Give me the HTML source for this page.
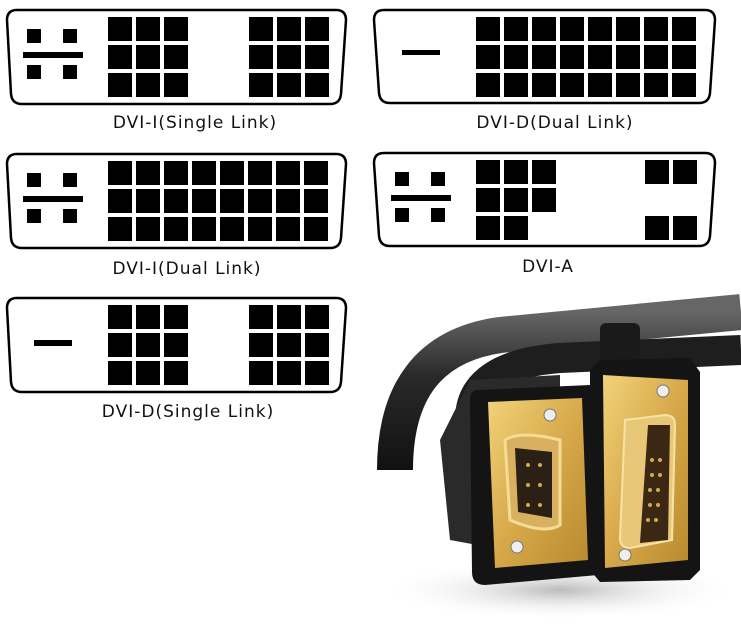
<!DOCTYPE html>
<html><head><meta charset="utf-8"><style>
html,body{margin:0;padding:0;background:#fff;}
svg{display:block;}
text{font-family:"DejaVu Sans","Liberation Sans",sans-serif;font-size:17px;fill:#111;letter-spacing:1px;}
</style></head><body>
<svg width="741" height="633" viewBox="0 0 741 633" xmlns="http://www.w3.org/2000/svg">
<defs>
<rect id="s" width="24" height="24" fill="#000"/>
<g id="c"><use href="#s"/><use href="#s" y="28"/><use href="#s" y="56"/></g>
<g id="g3"><use href="#c"/><use href="#c" x="28"/><use href="#c" x="56"/></g>
<g id="an"><rect x="0" y="0" width="14" height="14"/><rect x="36" y="0" width="14" height="14"/><rect x="-4" y="23" width="60" height="6"/><rect x="0" y="36" width="14" height="14"/><rect x="36" y="36" width="14" height="14"/></g>
<linearGradient id="cab" x1="0" y1="0" x2="0" y2="1"><stop offset="0" stop-color="#666"/><stop offset="0.4" stop-color="#2a2a2a"/><stop offset="1" stop-color="#111"/></linearGradient>
<linearGradient id="gold" x1="0" y1="0" x2="1" y2="1"><stop offset="0" stop-color="#f2d27a"/><stop offset="0.5" stop-color="#d7a94a"/><stop offset="1" stop-color="#b98a2e"/></linearGradient>
<radialGradient id="sh" cx="0.5" cy="0.5" r="0.5"><stop offset="0" stop-color="#bbb"/><stop offset="1" stop-color="#fff" stop-opacity="0"/></radialGradient>
</defs>
<g fill="none" stroke="#000" stroke-width="2.5">
<path d="M17,10 H336 Q346,10 346,20 L341,94 Q340,104 330,104 H22 Q12,104 11,94 L7,20 Q7,10 17,10 Z"/>
<path d="M384,10 H705 Q715,10 715,20 L710,93 Q709,103 699,103 H390 Q380,103 379,93 L374,20 Q374,10 384,10 Z"/>
<path d="M17,154 H336 Q346,154 346,164 L341,238 Q340,248 330,248 H22 Q12,248 11,238 L7,164 Q7,154 17,154 Z"/>
<path d="M384,153 H705 Q715,153 715,163 L710,236 Q709,246 699,246 H390 Q380,246 379,236 L374,163 Q374,153 384,153 Z"/>
<path d="M17,298 H336 Q346,298 346,308 L341,382 Q340,392 330,392 H22 Q12,392 11,382 L7,308 Q7,298 17,298 Z"/>
</g>
<use href="#an" x="27" y="29"/>
<use href="#g3" x="108" y="17"/><use href="#g3" x="249" y="17"/>
<text x="195" y="128" text-anchor="middle">DVI-I(Single Link)</text>
<rect x="402" y="50" width="38" height="5"/>
<use href="#g3" x="476" y="17"/><use href="#g3" x="560" y="17"/><use href="#c" x="644" y="17"/><use href="#c" x="672" y="17"/>
<text x="555" y="128" text-anchor="middle">DVI-D(Dual Link)</text>
<use href="#an" x="27" y="173"/>
<use href="#g3" x="108" y="161"/><use href="#g3" x="192" y="161"/><use href="#c" x="276" y="161"/><use href="#c" x="304" y="161"/>
<text x="187" y="274" text-anchor="middle">DVI-I(Dual Link)</text>
<use href="#an" x="395" y="172"/>
<use href="#s" x="476" y="160"/><use href="#s" x="504" y="160"/><use href="#s" x="532" y="160"/>
<use href="#s" x="476" y="188"/><use href="#s" x="504" y="188"/><use href="#s" x="532" y="188"/>
<use href="#s" x="476" y="216"/><use href="#s" x="504" y="216"/>
<use href="#s" x="645" y="160"/><use href="#s" x="673" y="160"/>
<use href="#s" x="645" y="216"/><use href="#s" x="673" y="216"/>
<text x="548" y="272" text-anchor="middle">DVI-A</text>
<rect x="34" y="340" width="38" height="6"/>
<use href="#g3" x="108" y="305"/><use href="#g3" x="249" y="305"/>
<text x="188" y="417" text-anchor="middle">DVI-D(Single Link)</text>
<ellipse cx="560" cy="590" rx="180" ry="30" fill="url(#sh)"/>
<path d="M395,470 Q395,350 500,335 L741,312" fill="none" stroke="url(#cab)" stroke-width="36"/>
<path d="M470,420 Q470,365 560,358 L741,350" fill="none" stroke="#1e1e1e" stroke-width="30"/>
<rect x="600" y="323" width="40" height="40" rx="6" fill="#1a1a1a"/>
<path d="M440,440 L470,380 L560,375 L560,560 L450,540 Z" fill="#2a2a2a"/>
<path d="M478,390 L590,385 L598,575 L485,585 Q472,585 472,572 L470,400 Q470,390 478,390 Z" fill="#141414"/>
<path d="M488,402 L582,398 L588,560 L495,568 Z" fill="url(#gold)"/>
<path d="M505,440 Q520,430 560,440 L560,525 Q545,535 510,520 Z" fill="#d9b060" stroke="#f3dc95" stroke-width="3"/>
<path d="M515,448 L552,452 L552,518 L518,512 Z" fill="#2b2015"/>
<circle cx="550" cy="415" r="6" fill="#eee" stroke="#777"/><circle cx="517" cy="547" r="6" fill="#eee" stroke="#777"/>
<path d="M590,370 L600,360 L690,358 L700,372 L700,570 L690,580 L600,582 L590,570 Z" fill="#141414"/>
<path d="M603,375 L688,380 L688,560 L605,568 Z" fill="url(#gold)"/>
<path d="M625,420 L665,415 Q675,415 675,425 L672,540 L630,548 Q620,548 620,538 Z" fill="#e8c878" stroke="#f6e3a8" stroke-width="2"/>
<path d="M648,425 L670,425 L668,540 L640,543 Z" fill="#3a2815"/>
<circle cx="663" cy="391" r="6" fill="#eee" stroke="#777"/><circle cx="625" cy="555" r="6" fill="#eee" stroke="#777"/>
<g fill="#d5a84a"><circle cx="652" cy="460" r="2"/><circle cx="660" cy="460" r="2"/><circle cx="652" cy="475" r="2"/><circle cx="660" cy="475" r="2"/><circle cx="650" cy="490" r="2"/><circle cx="658" cy="490" r="2"/><circle cx="650" cy="505" r="2"/><circle cx="658" cy="505" r="2"/><circle cx="648" cy="520" r="2"/><circle cx="656" cy="520" r="2"/><circle cx="528" cy="465" r="2"/><circle cx="540" cy="465" r="2"/><circle cx="528" cy="485" r="2"/><circle cx="540" cy="485" r="2"/><circle cx="528" cy="505" r="2"/><circle cx="540" cy="505" r="2"/></g>
</svg>
</body></html>
